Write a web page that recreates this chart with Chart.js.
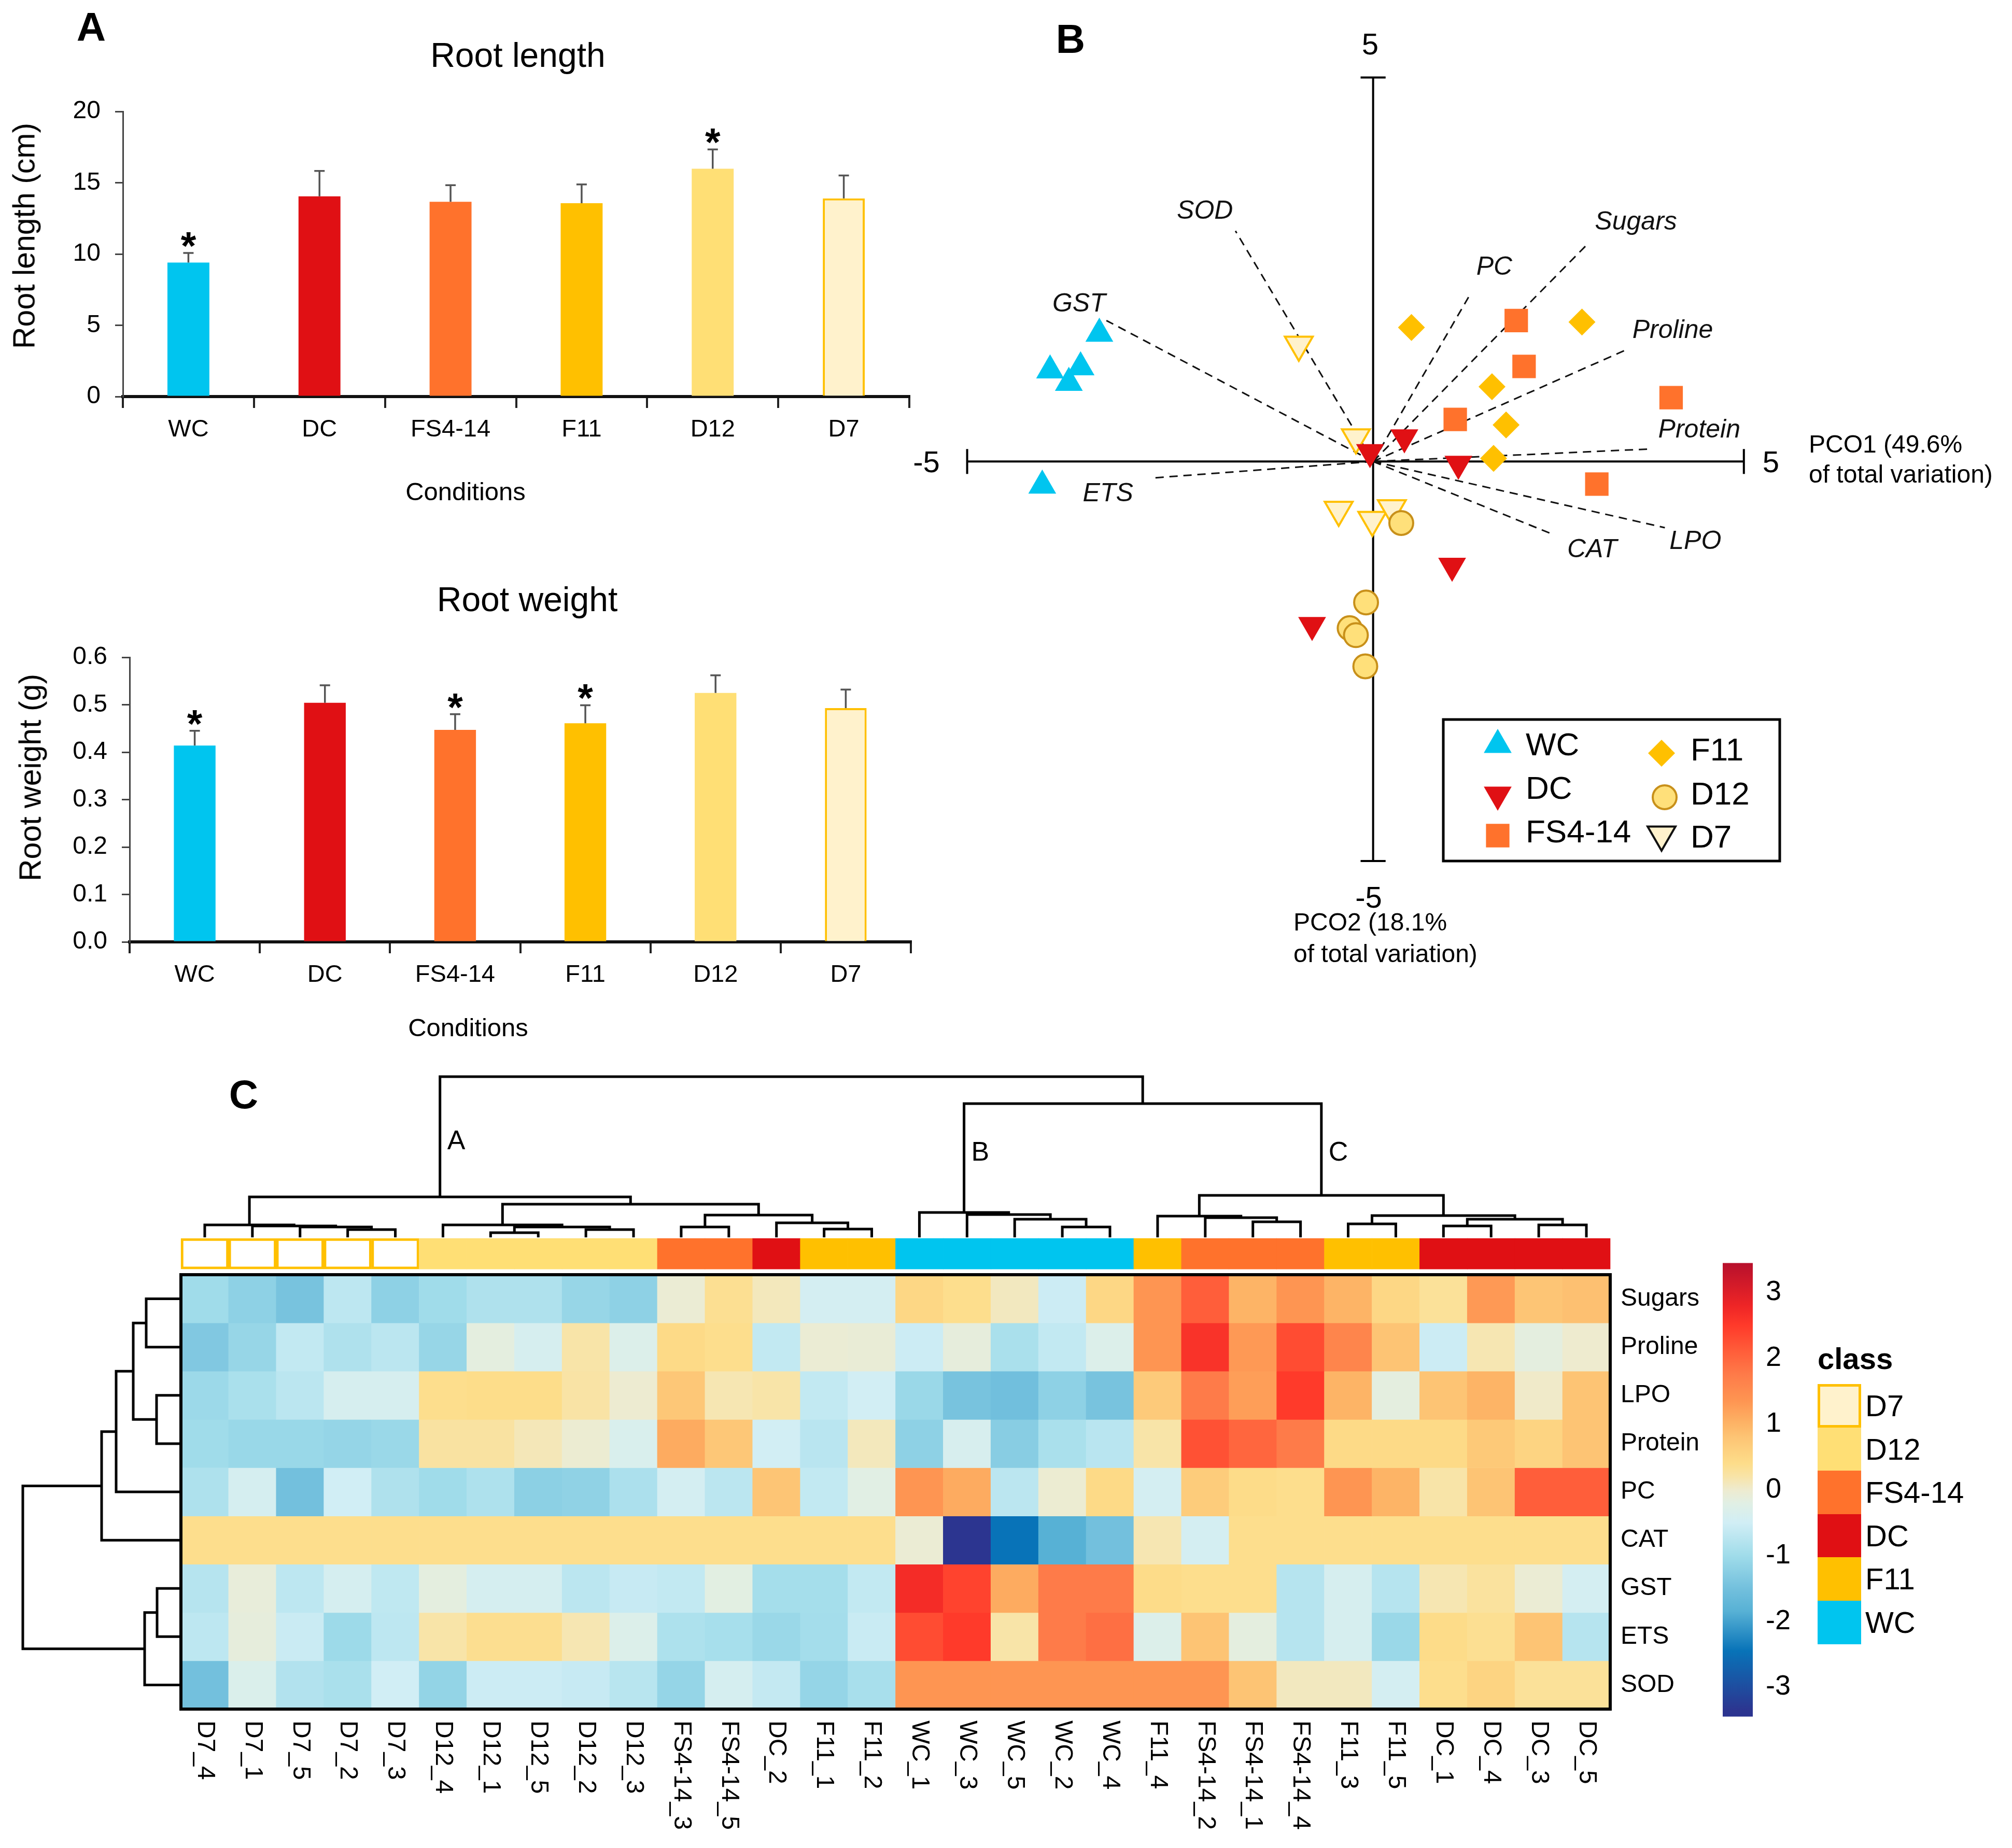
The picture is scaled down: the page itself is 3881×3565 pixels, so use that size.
<!DOCTYPE html>
<html>
<head>
<meta charset="utf-8">
<title>Root growth, PCO and heatmap</title>
<script src="https://cdn.jsdelivr.net/npm/chart.js@4.4.1/dist/chart.umd.min.js"></script>
<style>
  html, body { margin: 0; padding: 0; background: #fff; }
  body { position: relative; width: 3881px; height: 3565px; overflow: hidden;
         font-family: "Liberation Sans", Arial, sans-serif; color: #000; }
  canvas { position: absolute; }
  .t { position: absolute; white-space: nowrap; transform: translate(-50%, -50%); line-height: 1; }
  .v { position: absolute; white-space: nowrap; transform: translate(-50%, -50%) rotate(-90deg); line-height: 1; }
  .l { position: absolute; white-space: nowrap; transform: translateY(-50%); line-height: 1; }
  .panel { font-weight: bold; font-size: 78px; }
  .box { position: absolute; box-sizing: border-box; width: 84px; height: 84px; }
</style>
</head>
<body>
<canvas id="rootLength" width="1800" height="1000" style="left:0px;top:0px"></canvas>
<canvas id="rootWeight" width="1800" height="1000" style="left:0px;top:1050px"></canvas>
<canvas id="pco" width="2131" height="1900" style="left:1750px;top:0px"></canvas>
<canvas id="heat" width="3320" height="1515" style="left:0px;top:2050px"></canvas>
<canvas id="scale" width="240" height="990" style="left:3323px;top:2379px"></canvas>

<div class="t panel" style="left:176px;top:52px">A</div>
<div class="t" style="left:999px;top:106px;font-size:66px">Root length</div>
<div class="v" style="left:47px;top:455px;font-size:59px">Root length (cm)</div>
<div class="t" style="left:898px;top:948px;font-size:49px">Conditions</div>
<div class="t" style="left:1017px;top:1156px;font-size:66px">Root weight</div>
<div class="v" style="left:59px;top:1500px;font-size:59px">Root weight (g)</div>
<div class="t" style="left:903px;top:1982px;font-size:49px">Conditions</div>

<div class="t panel" style="left:2065px;top:75px">B</div>
<div class="t" style="left:2643px;top:85px;font-size:58px">5</div>
<div class="t" style="left:2640px;top:1731px;font-size:58px">-5</div>
<div class="t" style="left:1787px;top:891px;font-size:58px">-5</div>
<div class="t" style="left:3416px;top:891px;font-size:58px">5</div>
<div class="l" style="left:3489px;top:857px;font-size:48px">PCO1 (49.6%</div>
<div class="l" style="left:3489px;top:915px;font-size:48px">of total variation)</div>
<div class="l" style="left:2495px;top:1779px;font-size:48px">PCO2 (18.1%</div>
<div class="l" style="left:2495px;top:1840px;font-size:48px">of total variation)</div>

<div class="t panel" style="left:470px;top:2111px">C</div>
<div class="l" style="left:3506px;top:2621px;font-size:58px;font-weight:bold">class</div>
<div id="classLegend"></div>

<script>
Chart.defaults.font.family = '"Liberation Sans", Arial, sans-serif';
Chart.defaults.color = '#000';

// ---------- panel A : root length / weight ----------
const conditions = ['WC', 'DC', 'FS4-14', 'F11', 'D12', 'D7'];
const rootLength = [9.4, 14.05, 13.66, 13.56, 15.98, 13.9];
const rootLengthErr = [0.67, 1.78, 1.17, 1.32, 1.36, 1.61];
const rootLengthSig = [true, false, false, false, true, false];
const rootWeight = [0.414, 0.504, 0.447, 0.461, 0.525, 0.493];
const rootWeightErr = [0.031, 0.037, 0.033, 0.038, 0.037, 0.039];
const rootWeightSig = [true, false, true, true, false, false];

const classFill = { 'WC': '#00c5ef', 'DC': '#e01014', 'FS4-14': '#ff722c', 'F11': '#ffc000', 'D12': '#ffdf75', 'D7': '#fff2cc' };
const classEdge = { 'WC': '#00c5ef', 'DC': '#e01014', 'FS4-14': '#ff722c', 'F11': '#ffc000', 'D12': '#ffdf75', 'D7': '#ffc000' };

// ---------- panel B : PCO ----------
const pcoWC  = [[-3.50, 1.64], [-4.13, 1.17], [-3.74, 1.21], [-3.89, 1.01], [-4.23, -0.31]];
const pcoDC  = [[-0.04, 0.12], [0.40, 0.31], [1.09, -0.03], [1.01, -1.34], [-0.78, -2.10]];
const pcoFS  = [[1.83, 1.81], [1.93, 1.22], [3.81, 0.82], [1.05, 0.54], [2.86, -0.29]];
const pcoF11 = [[0.49, 1.72], [2.67, 1.79], [1.52, 0.96], [1.70, 0.47], [1.54, 0.04]];
const pcoD12 = [[0.36, -0.79], [-0.09, -1.81], [-0.30, -2.14], [-0.22, -2.23], [-0.10, -2.63]];
const pcoD7  = [[-0.95, 1.50], [-0.22, 0.31], [-0.44, -0.62], [-0.01, -0.75], [0.24, -0.60]];
const vectorNames = ['SOD', 'GST', 'ETS', 'PC', 'Sugars', 'Proline', 'Protein', 'LPO', 'CAT'];
const vectorX = [-1.76, -3.41, -2.80, 1.22, 2.75, 3.25, 3.53, 3.73, 2.26];
const vectorY = [2.96, 1.81, -0.21, 2.11, 2.80, 1.44, 0.16, -0.85, -0.92];
const vectorLabelX = [-2.15, -3.76, -3.39, 1.55, 3.36, 3.83, 4.17, 4.12, 2.80];
const vectorLabelY = [3.21, 2.02, -0.42, 2.49, 3.07, 1.68, 0.40, -1.03, -1.14];
const axisX = [-5.19, 4.74];
const axisY = [-5.13, 4.93];

// ---------- panel C : heatmap ----------
const sampleLabels = ['D7_4', 'D7_1', 'D7_5', 'D7_2', 'D7_3', 'D12_4', 'D12_1', 'D12_5', 'D12_2', 'D12_3',
  'FS4-14_3', 'FS4-14_5', 'DC_2', 'F11_1', 'F11_2', 'WC_1', 'WC_3', 'WC_5', 'WC_2', 'WC_4',
  'F11_4', 'FS4-14_2', 'FS4-14_1', 'FS4-14_4', 'F11_3', 'F11_5', 'DC_1', 'DC_4', 'DC_3', 'DC_5'];
const variables = ['Sugars', 'Proline', 'LPO', 'Protein', 'PC', 'CAT', 'GST', 'ETS', 'SOD'];
const zSugars  = [-1.0, -1.2, -1.45, -0.7, -1.2, -1.0, -0.85, -0.85, -1.1, -1.2, -0.05, 0.35, 0.1, -0.45, -0.45, 0.5, 0.38, 0.08, -0.55, 0.5, 1.35, 2.1, 1.0, 1.35, 1.0, 0.5, 0.3, 1.3, 0.78, 0.85];
const zProline = [-1.35, -1.1, -0.65, -0.85, -0.72, -1.1, -0.15, -0.4, 0.2, -0.3, 0.45, 0.38, -0.65, -0.05, -0.07, -0.55, -0.12, -0.9, -0.65, -0.3, 1.35, 2.6, 1.3, 2.3, 1.6, 0.8, -0.55, 0.15, -0.15, 0.0];
const zLPO     = [-1.05, -0.9, -0.72, -0.4, -0.4, 0.38, 0.4, 0.4, 0.22, -0.02, 0.75, 0.15, 0.2, -0.65, -0.48, -1.07, -1.45, -1.52, -1.2, -1.45, 0.7, 1.75, 1.25, 2.5, 1.0, -0.15, 0.8, 1.0, 0.03, 0.8];
const zProtein = [-1.0, -1.08, -1.08, -1.12, -1.07, 0.25, 0.25, 0.12, -0.03, -0.35, 1.1, 0.75, -0.48, -0.75, 0.1, -1.2, -0.38, -1.27, -0.9, -0.75, 0.2, 2.25, 2.0, 1.75, 0.45, 0.45, 0.45, 0.72, 0.55, 0.8];
const zPC      = [-0.86, -0.42, -1.5, -0.5, -0.85, -1.0, -0.86, -1.22, -1.18, -0.88, -0.45, -0.72, 0.78, -0.65, -0.2, 1.35, 1.1, -0.72, -0.03, 0.45, -0.45, 0.68, 0.42, 0.38, 1.35, 1.0, 0.2, 0.8, 2.1, 2.1];
const zCAT     = [0.38, 0.38, 0.38, 0.38, 0.38, 0.38, 0.38, 0.38, 0.38, 0.38, 0.38, 0.38, 0.38, 0.38, 0.38, -0.05, -3.35, -2.45, -1.85, -1.5, 0.15, -0.45, 0.38, 0.38, 0.38, 0.38, 0.38, 0.38, 0.38, 0.38];
const zGST     = [-0.78, -0.1, -0.7, -0.42, -0.68, -0.15, -0.42, -0.42, -0.72, -0.6, -0.65, -0.18, -0.95, -0.95, -0.65, 2.7, 2.4, 1.1, 1.75, 1.75, 0.42, 0.38, 0.38, -0.78, -0.4, -0.78, 0.15, 0.27, -0.05, -0.45];
const zETS     = [-0.7, -0.12, -0.57, -1.03, -0.7, 0.2, 0.36, 0.36, 0.15, -0.3, -0.87, -0.93, -1.07, -0.96, -0.58, 2.3, 2.5, 0.2, 1.75, 1.9, -0.3, 0.8, -0.15, -0.78, -0.4, -1.07, 0.42, 0.35, 0.8, -0.78];
const zSOD     = [-1.5, -0.33, -0.82, -0.9, -0.5, -1.15, -0.55, -0.55, -0.6, -0.76, -1.12, -0.42, -0.63, -1.12, -0.92, 1.35, 1.35, 1.35, 1.35, 1.35, 1.35, 1.35, 0.8, 0.08, 0.08, -0.45, 0.38, 0.55, 0.3, 0.3];
const zRows = [zSugars, zProline, zLPO, zProtein, zPC, zCAT, zGST, zETS, zSOD];

// hclust style merges: negative = leaf (1-based), positive = earlier merge row
const colMerge = [[-4, -5], [-3, 1], [-2, 2], [-1, 3], [-7, -8], [-9, -10], [5, 6], [-6, 7],
  [-11, -12], [-14, -15], [-13, 10], [9, 11], [8, 12], [4, 13],
  [-19, -20], [-18, 15], [-17, 16], [-16, 17],
  [-23, -24], [-22, 19], [-21, 20], [-25, -26], [-27, -28], [-29, -30], [23, 24], [22, 25],
  [21, 26], [18, 27], [14, 28]];
const colHeight = [15, 20, 22, 24, 9, 15, 20, 24, 20, 16, 28, 43, 64, 78, 20, 35, 44, 48,
  30, 38, 41, 26, 22, 24, 35, 42, 81, 258, 310];
const rowMerge = [[-1, -2], [-3, -4], [1, 2], [3, -5], [4, -6], [-7, -8], [6, -9], [5, 7]];
const rowHeight = [67, 47, 92, 125, 153, 46, 70, 305];
const clusterNames = ['A', 'B', 'C'];
const clusterNode = [14, 18, 27];

const zStops  = [-3.45, -3.35, -2.45, -1.85, -1.5, -1.0, -0.5, -0.2, 0, 0.2, 0.4, 0.8, 1.0, 1.35, 1.75, 2.1, 2.5, 2.8, 3.45];
const zColors = ['#2b3390', '#2c3590', '#0873b8', '#57b1d5', '#73c0dd', '#a0dcea', '#d1eef5', '#e1efe4', '#eeebcf',
  '#f8e4a8', '#fddd8a', '#fdc474', '#fdb466', '#fe9552', '#fe7b49', '#ff5e3a', '#ff3a2a', '#ee2526', '#b7102c'];
const colorbarTicks = [-3, -2, -1, 0, 1, 2, 3];
const classOrder = ['D7', 'D12', 'FS4-14', 'DC', 'F11', 'WC'];

// ---------- helpers ----------
function hex(c) { return [1, 3, 5].map(i => parseInt(c.substr(i, 2), 16)); }
function zColor(v) {
  if (v <= zStops[0]) return zColors[0];
  for (let i = 1; i < zStops.length; i++) {
    if (v <= zStops[i]) {
      const t = (v - zStops[i - 1]) / (zStops[i] - zStops[i - 1]);
      const a = hex(zColors[i - 1]), b = hex(zColors[i]);
      return 'rgb(' + a.map((x, k) => Math.round(x + (b[k] - x) * t)).join(',') + ')';
    }
  }
  return zColors[zColors.length - 1];
}

function dendro(merge, height) {
  const pos = [], lines = [];
  const get = k => k < 0 ? [-k - 1 + 0.5, 0] : [pos[k - 1], height[k - 1]];
  merge.forEach(([a, b], i) => {
    const [pa, ha] = get(a), [pb, hb] = get(b), h = height[i];
    lines.push([[pa, ha], [pa, h], [pb, h], [pb, hb]]);
    pos.push((pa + pb) / 2);
  });
  return { lines, pos };
}

// same geometry as Chart.js point styles, used for the legend keys
function marker(ctx, style, x, y, r, rot) {
  ctx.beginPath();
  if (style === 'circle') {
    ctx.arc(x, y, r, 0, Math.PI * 2);
  } else if (style === 'rect') {
    const s = Math.SQRT1_2 * r;
    ctx.rect(x - s, y - s, 2 * s, 2 * s);
  } else if (style === 'rectRot') {
    ctx.moveTo(x - r, y); ctx.lineTo(x, y - r); ctx.lineTo(x + r, y); ctx.lineTo(x, y + r);
  } else {
    let a = rot * Math.PI / 180;
    ctx.moveTo(x + Math.sin(a) * r, y - Math.cos(a) * r);
    a += 2 * Math.PI / 3; ctx.lineTo(x + Math.sin(a) * r, y - Math.cos(a) * r);
    a += 2 * Math.PI / 3; ctx.lineTo(x + Math.sin(a) * r, y - Math.cos(a) * r);
  }
  ctx.closePath();
}

// ---------- panel A charts ----------
const errorBars = {
  id: 'errorBars',
  afterDatasetsDraw(chart, args, opts) {
    const { ctx, scales: { x, y } } = chart;
    ctx.save();
    opts.values.forEach((v, i) => {
      const px = x.getPixelForValue(i);
      const top = y.getPixelForValue(v + opts.errors[i]);
      ctx.strokeStyle = '#555';
      ctx.lineWidth = 3.5;
      ctx.beginPath();
      ctx.moveTo(px, y.getPixelForValue(v));
      ctx.lineTo(px, top);
      ctx.moveTo(px - 10, top);
      ctx.lineTo(px + 10, top);
      ctx.stroke();
      if (opts.sig[i]) {
        ctx.fillStyle = '#000';
        ctx.font = 'bold 76px "Liberation Sans", Arial';
        ctx.textAlign = 'center';
        ctx.textBaseline = 'alphabetic';
        ctx.fillText('*', px, top + 12);
      }
    });
    ctx.restore();
  }
};

function rootChart(id, vals, errs, sig, o) {
  return new Chart(document.getElementById(id), {
    type: 'bar',
    data: {
      labels: conditions,
      datasets: [{
        data: vals,
        backgroundColor: conditions.map(c => classFill[c]),
        borderColor: conditions.map(c => classEdge[c]),
        borderWidth: conditions.map(c => c === 'D7' ? 4 : 0),
        barPercentage: 0.32,
        categoryPercentage: 1
      }]
    },
    options: {
      responsive: false, animation: false, devicePixelRatio: 1,
      layout: { padding: { left: 0, top: o.top, right: o.right, bottom: 0 } },
      plugins: { legend: { display: false }, tooltip: { enabled: false },
        errorBars: { values: vals, errors: errs, sig: sig } },
      scales: {
        x: {
          grid: { offset: true, drawOnChartArea: false, tickLength: 22, lineWidth: 4, color: '#222' },
          border: { color: '#111', width: 6 },
          ticks: { font: { size: 47 }, color: '#000', padding: 14, maxRotation: 0 },
          afterFit: s => { s.height = o.xHeight; }
        },
        y: {
          min: 0, max: o.max,
          ticks: { stepSize: o.step, font: { size: 48 }, color: '#000', padding: 28, callback: o.fmt },
          grid: { drawOnChartArea: false, tickLength: 15, lineWidth: 3, color: '#444' },
          border: { color: '#444', width: 3 },
          afterFit: s => { s.width = o.yWidth; }
        }
      }
    },
    plugins: [errorBars]
  });
}

rootChart('rootLength', rootLength, rootLengthErr, rootLengthSig,
  { top: 215, right: 46, xHeight: 235, yWidth: 237, max: 20, step: 5, fmt: v => String(v) });
rootChart('rootWeight', rootWeight, rootWeightErr, rootWeightSig,
  { top: 218, right: 43, xHeight: 233, yWidth: 250, max: 0.6, step: 0.1, fmt: v => v.toFixed(1) });

// ---------- panel B chart ----------
const pcoGroups = [
  { label: 'WC', pts: pcoWC, style: 'triangle', rot: 0, r: 31, bw: 0 },
  { label: 'DC', pts: pcoDC, style: 'triangle', rot: 180, r: 31, bw: 0 },
  { label: 'FS4-14', pts: pcoFS, style: 'rect', rot: 0, r: 32, bw: 0 },
  { label: 'F11', pts: pcoF11, style: 'rectRot', rot: 0, r: 26, bw: 0 },
  { label: 'D12', pts: pcoD12, style: 'circle', rot: 0, r: 23, bw: 4, fill: '#ffe07a', edge: '#c8901a' },
  { label: 'D7', pts: pcoD7, style: 'triangle', rot: 180, r: 31, bw: 4 }
];
// legend keys: marker centre and text start (canvas pixels)
const pcoLegendPos = {
  'WC': [1139, 1437, 1193, 1440], 'DC': [1139, 1533, 1193, 1524], 'FS4-14': [1139, 1612, 1193, 1608],
  'F11': [1455, 1453, 1511, 1450], 'D12': [1461, 1538, 1511, 1535], 'D7': [1455, 1610, 1511, 1618]
};

const lineStyle = { type: 'line', showLine: true, pointRadius: 0, borderColor: '#000', borderWidth: 4, fill: false };
const pcoSets = [];
pcoGroups.forEach(g => pcoSets.push({
  label: g.label,
  data: g.pts.map(p => ({ x: p[0], y: p[1] })),
  pointStyle: g.style, rotation: g.rot, radius: g.r, pointRadius: g.r,
  backgroundColor: g.fill || classFill[g.label], borderColor: g.edge || classEdge[g.label],
  borderWidth: g.bw, pointBorderWidth: g.bw, order: 0
}));
vectorNames.forEach((n, i) => pcoSets.push(Object.assign({}, lineStyle, {
  data: [{ x: 0, y: 0 }, { x: vectorX[i], y: vectorY[i] }],
  borderWidth: 3, borderColor: '#111', borderDash: [16, 11], order: 1
})));
const tk = 0.16;
[
  [[axisX[0], 0], [axisX[1], 0]], [[0, axisY[0]], [0, axisY[1]]],
  [[axisX[0], -tk], [axisX[0], tk]], [[axisX[1], -tk], [axisX[1], tk]],
  [[-tk, axisY[0]], [tk, axisY[0]]], [[-tk, axisY[1]], [tk, axisY[1]]]
].forEach(seg => pcoSets.push(Object.assign({}, lineStyle, {
  data: seg.map(p => ({ x: p[0], y: p[1] })), order: 2
})));

const pcoText = {
  id: 'pcoText',
  afterDatasetsDraw(chart) {
    const { ctx, scales: { x, y } } = chart;
    ctx.save();
    ctx.fillStyle = '#111';
    ctx.font = 'italic 50px "Liberation Sans", Arial';
    ctx.textAlign = 'center';
    ctx.textBaseline = 'middle';
    vectorNames.forEach((n, i) => ctx.fillText(n, x.getPixelForValue(vectorLabelX[i]), y.getPixelForValue(vectorLabelY[i])));
    // legend box
    ctx.fillStyle = '#fff';
    ctx.fillRect(1034, 1388, 649, 273);
    ctx.strokeStyle = '#000';
    ctx.lineWidth = 5;
    ctx.strokeRect(1034, 1388, 649, 273);
    ctx.font = '62px "Liberation Sans", Arial';
    ctx.textAlign = 'left';
    pcoGroups.forEach(g => {
      const [mx, my, tx, ty] = pcoLegendPos[g.label];
      ctx.fillStyle = g.fill || classFill[g.label];
      ctx.strokeStyle = g.style === 'triangle' && g.bw ? '#111' : (g.edge || classEdge[g.label]);
      ctx.lineWidth = g.bw;
      marker(ctx, g.style, mx, my, g.r, g.rot);
      ctx.fill();
      if (g.bw) ctx.stroke();
      ctx.fillStyle = '#000';
      ctx.fillText(g.label, tx, ty);
    });
    ctx.restore();
  }
};

new Chart(document.getElementById('pco'), {
  type: 'scatter',
  data: { datasets: pcoSets },
  options: {
    responsive: false, animation: false, devicePixelRatio: 1,
    plugins: { legend: { display: false }, tooltip: { enabled: false } },
    scales: {
      x: { type: 'linear', min: -5.724, max: 7.936, display: false },
      y: { type: 'linear', min: -6.487, max: 5.692, display: false }
    }
  },
  plugins: [pcoText]
});

// ---------- panel C heatmap ----------
const colTree = dendro(colMerge, colHeight);
const rowTree = dendro(rowMerge, rowHeight);
const topBase = 9.773, topK = 1 / 93.111, leftK = 1 / 91.9;

const heatSets = [];
variables.forEach((v, r) => heatSets.push({
  type: 'bar',
  data: sampleLabels.map((s, c) => ({ x: c + 0.5, y: [8 - r, 9 - r] })),
  backgroundColor: zRows[r].map(zColor),
  borderWidth: 0, grouped: false, barPercentage: 1, categoryPercentage: 1, order: 3
}));
const sampleClass = sampleLabels.map(s => s.split('_')[0]);
heatSets.push({
  type: 'bar',
  data: sampleLabels.map((s, c) => ({ x: c + 0.5, y: [9.118, 9.752] })),
  backgroundColor: sampleClass.map(c => c === 'D7' ? '#ffffff' : classFill[c]),
  borderColor: '#ffc000',
  borderWidth: sampleClass.map(c => c === 'D7' ? 5 : 0),
  borderSkipped: false,
  grouped: false, barPercentage: 1, categoryPercentage: 1, order: 3
});
const treeLine = { type: 'line', pointRadius: 0, borderColor: '#000', borderWidth: 5, fill: false,
  borderJoinStyle: 'miter', order: 1 };
colTree.lines.forEach(l => heatSets.push(Object.assign({}, treeLine, {
  data: l.map(([p, h]) => ({ x: p, y: topBase + h * topK }))
})));
rowTree.lines.forEach(l => heatSets.push(Object.assign({}, treeLine, {
  data: l.map(([p, h]) => ({ x: -h * leftK, y: 9 - p }))
})));

const heatText = {
  id: 'heatText',
  afterDatasetsDraw(chart) {
    const { ctx, scales: { x, y } } = chart;
    const x0 = x.getPixelForValue(0), x1 = x.getPixelForValue(30);
    const y0 = y.getPixelForValue(9), y1 = y.getPixelForValue(0);
    ctx.save();
    ctx.strokeStyle = '#000';
    ctx.lineWidth = 6;
    ctx.strokeRect(x0, y0, x1 - x0, y1 - y0);
    ctx.fillStyle = '#000';
    ctx.font = '48px "Liberation Sans", Arial';
    ctx.textAlign = 'left';
    ctx.textBaseline = 'middle';
    variables.forEach((v, r) => ctx.fillText(v, x1 + 20, y.getPixelForValue(8.5 - r)));
    sampleLabels.forEach((s, c) => {
      ctx.save();
      ctx.translate(x.getPixelForValue(c + 0.5), y1 + 22);
      ctx.rotate(Math.PI / 2);
      ctx.fillText(s, 0, 0);
      ctx.restore();
    });
    ctx.font = '52px "Liberation Sans", Arial';
    const cy = [11.749, 11.513, 11.513];
    clusterNames.forEach((n, i) =>
      ctx.fillText(n, x.getPixelForValue(colTree.pos[clusterNode[i] - 1]) + 14, y.getPixelForValue(cy[i])));
    ctx.restore();
  }
};

new Chart(document.getElementById('heat'), {
  type: 'bar',
  data: { datasets: heatSets },
  options: {
    responsive: false, animation: false, devicePixelRatio: 1,
    plugins: { legend: { display: false }, tooltip: { enabled: false } },
    scales: {
      x: { type: 'linear', min: -3.7976, max: 32.329, offset: false, display: false, ticks: { stepSize: 10 } },
      y: { type: 'linear', min: -2.878, max: 13.393, display: false }
    }
  },
  plugins: [heatText]
});

// colour key
new Chart(document.getElementById('scale'), {
  type: 'bar',
  data: {
    labels: [''],
    datasets: [{
      data: [[-3.45, 3.45]],
      barPercentage: 1, categoryPercentage: 1, borderWidth: 0,
      backgroundColor: c => {
        const ch = c.chart;
        if (!ch.chartArea) return '#fff';
        const ys = ch.scales.y;
        const g = ch.ctx.createLinearGradient(0, ys.getPixelForValue(-3.45), 0, ys.getPixelForValue(3.45));
        zStops.forEach((v, i) => g.addColorStop((v + 3.45) / 6.9, zColors[i]));
        return g;
      }
    }]
  },
  options: {
    responsive: false, animation: false, devicePixelRatio: 1,
    layout: { padding: 0 },
    plugins: { legend: { display: false }, tooltip: { enabled: false } },
    scales: {
      x: { display: false },
      y: {
        position: 'right', min: -3.45, max: 3.45,
        afterBuildTicks: s => { s.ticks = colorbarTicks.map(v => ({ value: v })); },
        ticks: { font: { size: 54 }, color: '#000', padding: 25, callback: v => String(v) },
        grid: { display: false, drawTicks: false },
        border: { display: false },
        afterFit: s => { s.width = 182; }
      }
    }
  }
});

// class legend
const legendDiv = document.getElementById('classLegend');
classOrder.forEach((c, i) => {
  const top = 2670 + i * 83.5;
  const box = document.createElement('div');
  box.className = 'box';
  box.style.left = '3506px';
  box.style.top = top + 'px';
  box.style.background = classFill[c];
  if (c === 'D7') box.style.border = '5px solid #ffc000';
  legendDiv.appendChild(box);
  const t = document.createElement('div');
  t.className = 'l';
  t.style.left = '3598px';
  t.style.top = (top + 42) + 'px';
  t.style.fontSize = '58px';
  t.textContent = c;
  legendDiv.appendChild(t);
});
</script>
</body>
</html>
